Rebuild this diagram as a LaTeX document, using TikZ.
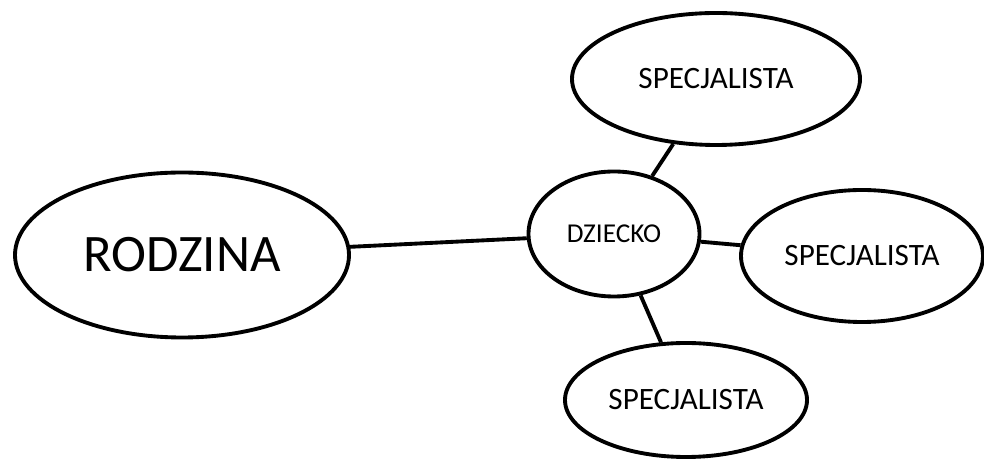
\documentclass[tikz,border=0pt]{standalone}
\usepackage{fontspec}
\setmainfont{Carlito}
\usetikzlibrary{shapes.geometric}

\begin{document}
\begin{tikzpicture}[
    bubble/.style={draw,ellipse,line width=2.2pt,inner sep=0pt},
    link/.style={line width=2.2pt}
  ]
    \useasboundingbox (0,0) rectangle (19.68,9.18);

    % Ellipses
    \node[bubble,minimum width=6.68cm,minimum height=3.30cm,font=\fontsize{30}{36}\selectfont] (rodzina) at (3.64,4.08) {RODZINA};
    \node[bubble,minimum width=3.42cm,minimum height=2.50cm,font=\fontsize{15.5}{18}\selectfont] (dziecko) at (12.28,4.50) {DZIECKO};
    \node[bubble,minimum width=5.76cm,minimum height=2.64cm,font=\fontsize{17.7}{21}\selectfont] (specTop) at (14.32,7.60) {SPECJALISTA};
    \node[bubble,minimum width=4.84cm,minimum height=2.64cm,font=\fontsize{17.7}{21}\selectfont] (specRight) at (17.24,4.06) {SPECJALISTA};
    \node[bubble,minimum width=4.84cm,minimum height=2.28cm,font=\fontsize{17.7}{21}\selectfont] (specBottom) at (13.72,1.18) {SPECJALISTA};

    % Links
    \draw[link] (rodzina) -- (dziecko);
    \draw[link] (dziecko) -- (specTop);
    \draw[link] (dziecko) -- (specRight);
    \draw[link] (dziecko) -- (specBottom);
\end{tikzpicture}
\end{document}
